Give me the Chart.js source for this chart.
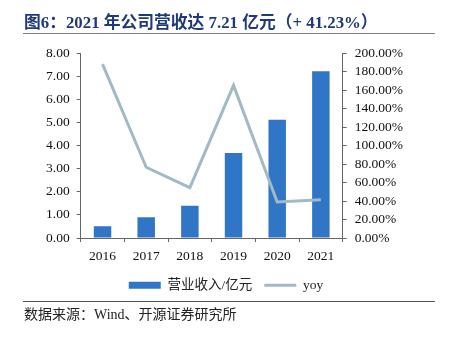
<!DOCTYPE html>
<html><head><meta charset="utf-8">
<script src="https://cdn.jsdelivr.net/npm/chart.js@4/dist/chart.umd.min.js"></script>
<style>
html,body{margin:0;padding:0;background:#fff;}
#wrap{position:relative;width:452px;height:341px;overflow:hidden;}
#title{position:absolute;left:24px;top:9px;font:bold 16.8px "Liberation Serif","Noto Sans CJK SC",serif;color:#1F3A78;white-space:nowrap;}
#tline{position:absolute;left:23px;width:412px;top:33px;height:1px;background:#808080;}
#fline{position:absolute;left:23px;width:412px;top:301px;height:1px;background:#555;}
#foot{position:absolute;left:24px;top:303px;font:14px "Liberation Serif","Noto Sans CJK SC",serif;color:#222;white-space:nowrap;}
#c{position:absolute;left:0;top:0;}
</style></head>
<body><div id="wrap">
<canvas id="c" width="452" height="341"></canvas>
<div id="title">图6：2021 年公司营收达 7.21 亿元（+ 41.23%）</div>
<div id="tline"></div>
<div id="fline"></div>
<div id="foot">数据来源：Wind、开源证券研究所</div>
</div>
<script>
const categories = ['2016','2017','2018','2019','2020','2021'];
const revenue = [0.51, 0.90, 1.39, 3.68, 5.11, 7.21];
const yoy = [188, 76.5, 54.4, 165, 38.9, 41.23];
const seriesNames = ['营业收入/亿元', 'yoy'];
const leftTicks = [0,1,2,3,4,5,6,7,8];
const rightTicks = [0,20,40,60,80,100,120,140,160,180,200];

const tickFont = {family:'"Liberation Serif", serif', size:13.5};
const axisColor = '#666';
const barColor = '#3175C7';
const lineColor = '#A2B9C6';

new Chart(document.getElementById('c'), {
  data: {
    labels: categories,
    datasets: [
      {type:'bar', label:seriesNames[0], data:revenue, backgroundColor:barColor, yAxisID:'y', barPercentage:0.4, categoryPercentage:1, order:2},
      {type:'line', label:seriesNames[1], data:yoy, borderColor:lineColor, backgroundColor:lineColor, borderWidth:3, pointRadius:0, tension:0, yAxisID:'y1', order:1}
    ]
  },
  options: {
    responsive:false, animation:false,
    layout:{padding:{top:53, left:0, right:0, bottom:39}},
    plugins:{
      tooltip:{enabled:false},
      legend:{
        position:'bottom',
        labels:{
          usePointStyle:true, pointStyleWidth:32, boxHeight:7,
          font:{family:'"Liberation Serif","Noto Sans CJK SC", serif', size:13.5}, color:'#222', padding:12,
          generateLabels(chart){
            const items = Chart.defaults.plugins.legend.labels.generateLabels(chart);
            items.forEach(it=>{
              if(it.datasetIndex===0){ it.pointStyle='rect'; it.lineWidth=0; it.fillStyle=barColor; it.strokeStyle=barColor; }
              else { it.pointStyle='line'; it.lineWidth=3; it.strokeStyle=lineColor; }
            });
            items.sort((a,b)=>a.datasetIndex-b.datasetIndex);
            return items;
          }
        }
      }
    },
    scales:{
      x:{
        offset:true,
        grid:{offset:true, drawOnChartArea:false, drawTicks:true, tickLength:4, color:axisColor},
        border:{color:axisColor},
        ticks:{font:tickFont, color:'#111', padding:6, maxRotation:0, autoSkip:false},
        afterFit(s){ s.height = 28.5; }
      },
      y:{
        position:'left', min:0, max:8,
        afterBuildTicks(s){ s.ticks = leftTicks.map(v=>({value:v})); },
        grid:{drawOnChartArea:false, tickLength:4, color:axisColor},
        border:{color:axisColor},
        ticks:{font:tickFont, color:'#111', padding:7, autoSkip:false, callback:v=>v.toFixed(2)},
        afterFit(s){ s.width = 80.7; }
      },
      y1:{
        position:'right', min:0, max:200,
        afterBuildTicks(s){ s.ticks = rightTicks.map(v=>({value:v})); },
        grid:{drawOnChartArea:false, tickLength:4, color:axisColor},
        border:{color:axisColor},
        ticks:{font:tickFont, color:'#111', padding:8, autoSkip:false, callback:v=>v.toFixed(2)+'%'},
        afterFit(s){ s.width = 109.3; }
      }
    }
  }
});
</script>
</body></html>
